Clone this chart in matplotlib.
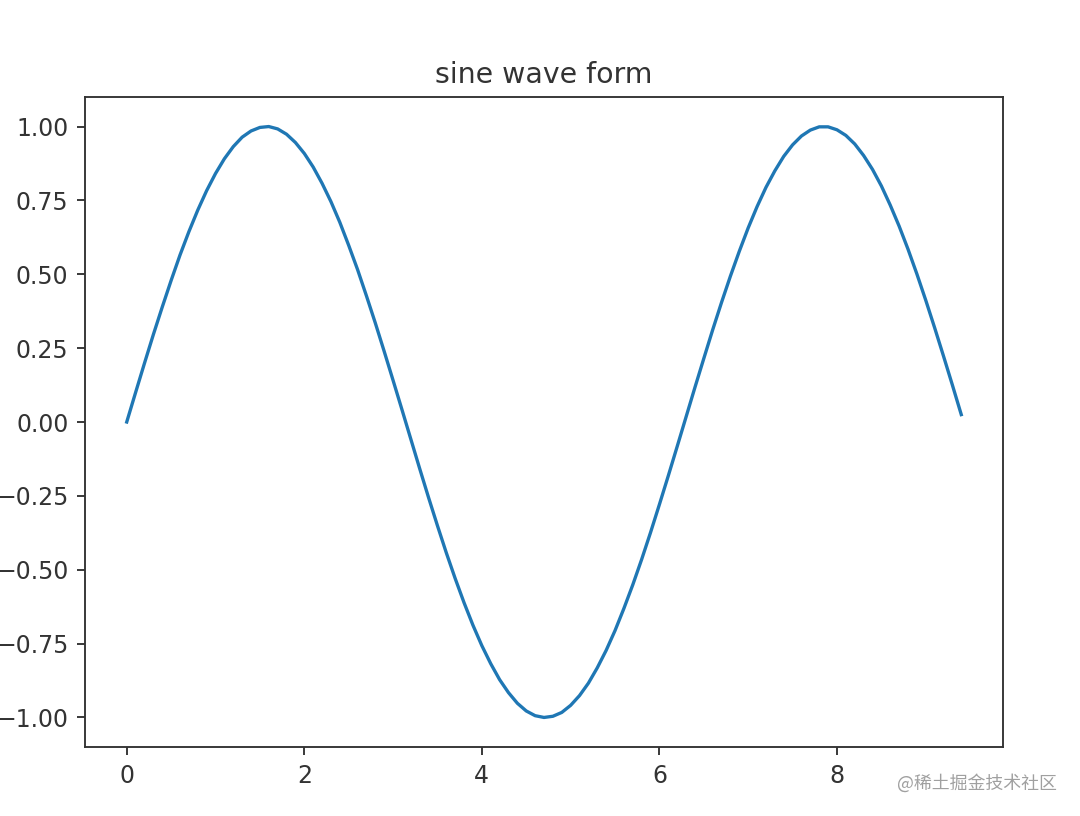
import matplotlib
matplotlib.use('Agg')
import matplotlib.pyplot as plt

# values
x_values = [
    0.0, 0.1, 0.2, 0.3, 0.4, 0.5, 0.6, 0.7, 0.8, 0.9,
    1.0, 1.1, 1.2, 1.3, 1.4, 1.5, 1.6, 1.7, 1.8, 1.9,
    2.0, 2.1, 2.2, 2.3, 2.4, 2.5, 2.6, 2.7, 2.8, 2.9,
    3.0, 3.1, 3.2, 3.3, 3.4, 3.5, 3.6, 3.7, 3.8, 3.9,
    4.0, 4.1, 4.2, 4.3, 4.4, 4.5, 4.6, 4.7, 4.8, 4.9,
    5.0, 5.1, 5.2, 5.3, 5.4, 5.5, 5.6, 5.7, 5.8, 5.9,
    6.0, 6.1, 6.2, 6.3, 6.4, 6.5, 6.6, 6.7, 6.8, 6.9,
    7.0, 7.1, 7.2, 7.3, 7.4, 7.5, 7.6, 7.7, 7.8, 7.9,
    8.0, 8.1, 8.2, 8.3, 8.4, 8.5, 8.6, 8.7, 8.8, 8.9,
    9.0, 9.1, 9.2, 9.3, 9.4,
]
y_values = [
    0.000, 0.100, 0.199, 0.296, 0.389, 0.479, 0.565, 0.644, 0.717, 0.783,
    0.841, 0.891, 0.932, 0.964, 0.985, 0.997, 1.000, 0.992, 0.974, 0.946,
    0.909, 0.863, 0.808, 0.746, 0.676, 0.598, 0.516, 0.427, 0.335, 0.239,
    0.141, 0.042, -0.058, -0.158, -0.256, -0.351, -0.443, -0.530, -0.612, -0.688,
    -0.757, -0.818, -0.872, -0.916, -0.952, -0.978, -0.994, -1.000, -0.996, -0.983,
    -0.959, -0.926, -0.884, -0.832, -0.773, -0.706, -0.631, -0.551, -0.465, -0.374,
    -0.279, -0.182, -0.083, 0.017, 0.117, 0.215, 0.312, 0.405, 0.494, 0.578,
    0.657, 0.729, 0.794, 0.850, 0.899, 0.938, 0.968, 0.988, 0.999, 0.999,
    0.989, 0.970, 0.941, 0.902, 0.855, 0.799, 0.734, 0.663, 0.585, 0.501,
    0.412, 0.319, 0.223, 0.125, 0.025,
]
title = 'sine wave form'
watermark = '@稀土掘金技术社区'


def main():
    ink = '#333333'
    plt.rcParams.update({
        'text.color': ink,
        'axes.edgecolor': ink,
        'xtick.color': ink,
        'ytick.color': ink,
        'xtick.labelcolor': ink,
        'ytick.labelcolor': ink,
    })
    dpi = 170
    fig = plt.figure(figsize=(1080 / dpi, 816 / dpi), dpi=dpi)
    ax = fig.add_axes([85 / 1080, 69 / 816, 918 / 1080, 650 / 816])
    ax.plot(x_values, y_values, linewidth=1.4)
    ax.set_title(title)
    fig.text(0.979, 0.04, watermark, ha='right', va='center',
             fontsize=7.6, color='#a0a0a0',
             family=['Noto Sans CJK SC', 'DejaVu Sans'])
    fig.savefig('out.png', dpi=dpi)


if __name__ == '__main__':
    main()
